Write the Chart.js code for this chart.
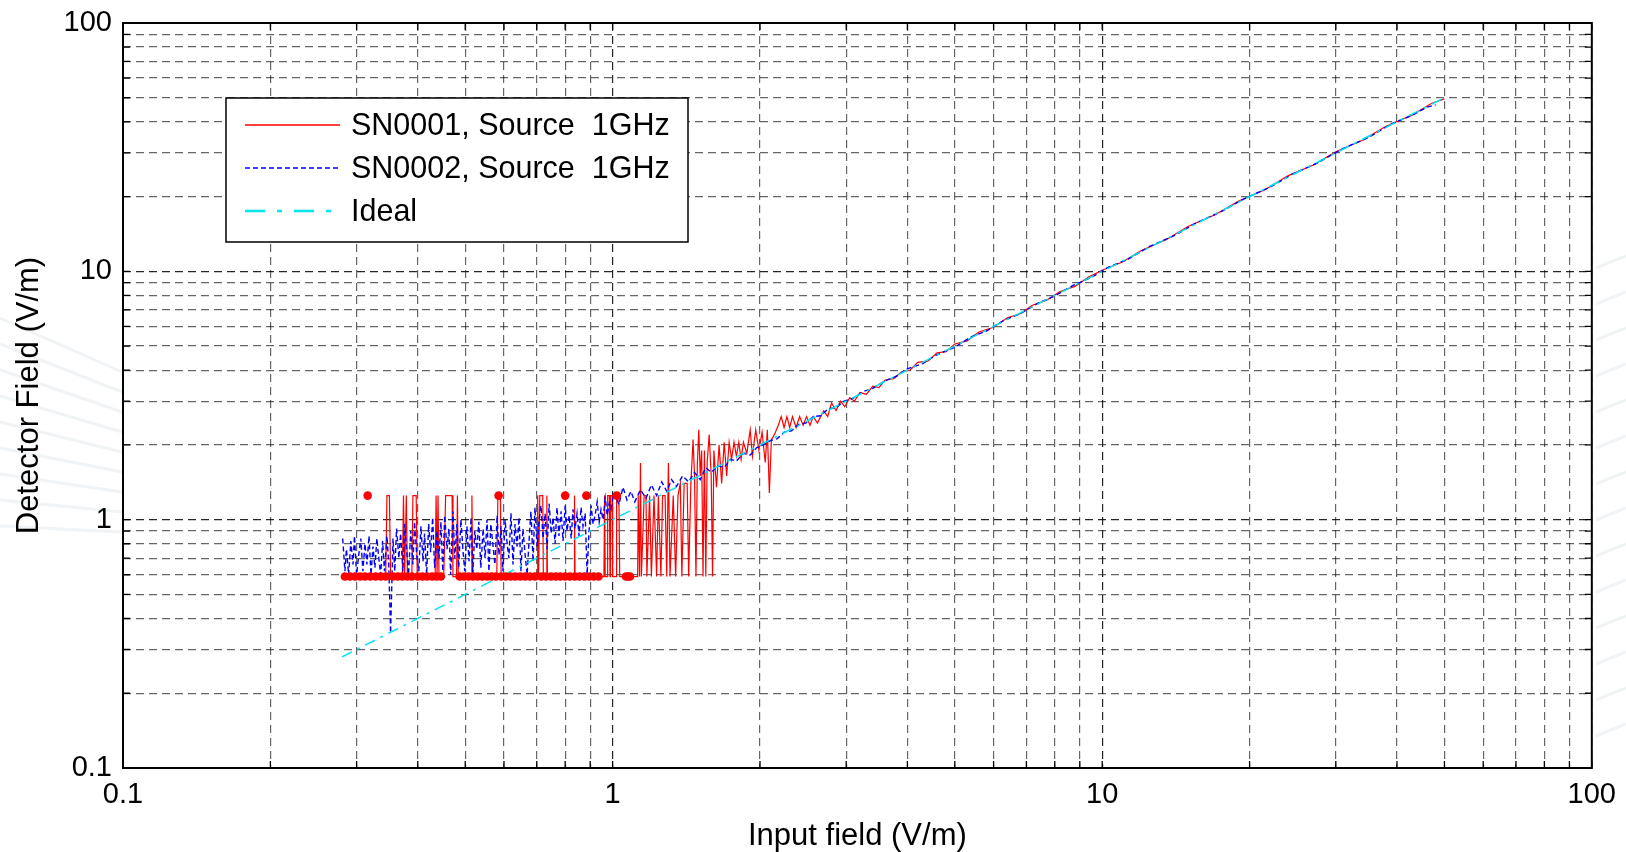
<!DOCTYPE html>
<html>
<head>
<meta charset="utf-8">
<title>Detector field vs input field</title>
<script src="https://cdn.jsdelivr.net/npm/chart.js@4.4.0/dist/chart.umd.min.js"></script>
<style>
  html, body { margin: 0; padding: 0; background: #fff; }
  #wrap { width: 1626px; height: 852px; }
</style>
</head>
<body>
<div id="wrap"><canvas id="linChart" width="1626" height="852"></canvas></div>
<script>
// tick labels (decades only)
const xTickValues = [0.1, 1, 10, 100];
const xTickLabels = ['0.1', '1', '10', '100'];
const yTickValues = [0.1, 1, 10, 100];
const yTickLabels = ['0.1', '1', '10', '100'];
const gridMantissas = [1, 2, 3, 4, 5, 6, 7, 8, 9];

const seriesNames = ['SN0001, Source  1GHz', 'SN0002, Source  1GHz', 'Ideal'];

// SN0001 (red, solid)
const sn1X = [
  0.284, 0.296, 0.309, 0.322, 0.335, 0.344, 0.346, 0.350, 0.352, 0.363,
  0.372, 0.374, 0.376, 0.379, 0.381, 0.389, 0.391, 0.397, 0.399, 0.412,
  0.424, 0.434, 0.436, 0.438, 0.440, 0.442, 0.452, 0.456, 0.470, 0.472,
  0.480, 0.482, 0.484, 0.496, 0.514, 0.516, 0.518, 0.532, 0.548, 0.562,
  0.580, 0.583, 0.590, 0.592, 0.612, 0.630, 0.650, 0.668, 0.686, 0.701,
  0.703, 0.706, 0.710, 0.720, 0.722, 0.732, 0.734, 0.736, 0.752, 0.770,
  0.790, 0.810, 0.834, 0.836, 0.838, 0.860, 0.880, 0.900, 0.920, 0.940,
  0.960, 0.963, 0.966, 0.975, 0.977, 0.985, 0.988, 0.990, 0.998, 1.000,
  1.017, 1.019, 1.030, 1.034, 1.050, 1.070, 1.090, 1.110, 1.125, 1.128,
  1.135, 1.140, 1.145, 1.160, 1.170, 1.175, 1.190, 1.200, 1.215, 1.230,
  1.240, 1.255, 1.265, 1.280, 1.290, 1.300, 1.310, 1.330, 1.345, 1.360,
  1.375, 1.385, 1.400, 1.420, 1.430, 1.445, 1.460, 1.470, 1.480, 1.490,
  1.500, 1.510, 1.520, 1.530, 1.540, 1.550, 1.560, 1.575, 1.590, 1.600,
  1.610, 1.630, 1.650, 1.670, 1.690, 1.710, 1.730, 1.750, 1.770, 1.790,
  1.810, 1.830, 1.850, 1.880, 1.910, 1.930, 1.960, 1.990, 2.020, 2.050,
  2.070, 2.090, 2.110, 2.140, 2.180, 2.210, 2.240, 2.270, 2.300, 2.330,
  2.370, 2.410, 2.450, 2.490, 2.530, 2.570, 2.620, 2.660, 2.700, 2.750,
  2.800, 2.860, 2.920, 2.980, 3.050, 3.120, 3.200, 3.300, 3.400, 3.500,
  3.600, 3.750, 3.900, 4.050, 4.200, 4.400, 4.600, 4.800, 5.000, 5.300,
  5.600, 6.000, 6.400, 6.800, 7.200, 7.700, 8.200, 8.800, 9.400, 10.00,
  11.00, 12.00, 13.50, 15.00, 17.00, 19.00, 21.50, 24.00, 27.00, 30.00,
  34.00, 38.00, 43.00, 47.00, 50.00
];
const sn1Y = [
  0.59, 0.59, 0.59, 0.59, 0.59, 0.59, 1.25, 1.25, 0.59, 0.59,
  0.59, 1.25, 0.59, 1.25, 0.59, 0.59, 1.25, 1.25, 0.59, 0.59,
  0.59, 0.59, 1.25, 0.59, 1.25, 0.59, 0.59, 1.25, 1.25, 0.59,
  0.59, 1.25, 0.59, 0.59, 0.59, 1.25, 0.59, 0.59, 0.59, 0.59,
  0.59, 1.25, 1.25, 0.59, 0.59, 0.59, 0.59, 0.59, 0.59, 0.59,
  1.25, 0.59, 1.25, 1.25, 0.59, 0.59, 1.25, 0.59, 0.59, 0.59,
  0.59, 0.59, 0.59, 1.25, 0.59, 0.59, 0.59, 0.59, 0.59, 0.59,
  0.59, 1.25, 0.59, 0.59, 1.25, 1.25, 0.59, 1.25, 1.25, 0.59,
  0.59, 1.25, 1.25, 0.59, 0.59, 0.59, 0.59, 0.59, 0.59, 1.25,
  0.59, 1.69, 0.59, 1.25, 1.25, 0.59, 1.25, 0.59, 1.25, 0.59,
  1.25, 0.59, 1.25, 1.25, 0.59, 1.69, 0.59, 1.25, 0.59, 1.25,
  1.40, 0.59, 1.40, 1.40, 0.59, 1.40, 2.10, 1.50, 0.59, 1.70,
  2.30, 1.50, 1.90, 0.59, 1.90, 0.59, 1.70, 2.20, 1.50, 0.59,
  1.90, 1.35, 2.00, 1.40, 2.05, 1.50, 2.05, 1.75, 2.05, 1.80,
  2.05, 1.75, 2.05, 1.85, 2.30, 1.80, 2.30, 1.90, 2.25, 1.70,
  2.30, 1.28, 2.10, 2.20, 2.40, 2.60, 2.35, 2.60, 2.35, 2.60,
  2.35, 2.60, 2.40, 2.60, 2.40, 2.60, 2.45, 2.60, 2.75, 2.60,
  2.95, 2.75, 3.00, 2.85, 3.10, 3.00, 3.25, 3.20, 3.45, 3.40,
  3.65, 3.70, 3.95, 4.00, 4.30, 4.35, 4.70, 4.75, 5.10, 5.25,
  5.70, 5.95, 6.50, 6.75, 7.30, 7.65, 8.30, 8.70, 9.50, 10.10,
  10.90, 12.10, 13.40, 15.20, 16.90, 19.20, 21.30, 24.30, 26.80, 30.30,
  33.70, 38.40, 42.60, 47.40, 49.50
];

// SN0001 sample markers (red dots)
const sn1DotX = [
  0.284, 0.291, 0.298, 0.305, 0.312, 0.320, 0.328, 0.336, 0.344, 0.356,
  0.364, 0.372, 0.381, 0.389, 0.400, 0.409, 0.418, 0.428, 0.437, 0.446,
  0.487, 0.497, 0.508, 0.519, 0.530, 0.542, 0.554, 0.566, 0.578, 0.592,
  0.605, 0.619, 0.633, 0.648, 0.663, 0.678, 0.694, 0.715, 0.731, 0.748,
  0.765, 0.782, 0.800, 0.818, 0.837, 0.856, 0.876, 0.896, 0.916, 0.936,
  1.065, 1.075, 1.085,
  0.316, 0.585, 0.800, 0.884, 1.020
];
const sn1DotY = [
  0.59, 0.59, 0.59, 0.59, 0.59, 0.59, 0.59, 0.59, 0.59, 0.59,
  0.59, 0.59, 0.59, 0.59, 0.59, 0.59, 0.59, 0.59, 0.59, 0.59,
  0.59, 0.59, 0.59, 0.59, 0.59, 0.59, 0.59, 0.59, 0.59, 0.59,
  0.59, 0.59, 0.59, 0.59, 0.59, 0.59, 0.59, 0.59, 0.59, 0.59,
  0.59, 0.59, 0.59, 0.59, 0.59, 0.59, 0.59, 0.59, 0.59, 0.59,
  0.59, 0.59, 0.59,
  1.25, 1.25, 1.25, 1.25, 1.25
];

// SN0002 (blue, dashed)
const sn2X = [
  0.281, 0.284, 0.286, 0.289, 0.292, 0.295, 0.297, 0.300, 0.303, 0.306,
  0.309, 0.312, 0.315, 0.318, 0.321, 0.324, 0.327, 0.330, 0.333, 0.336,
  0.339, 0.342, 0.346, 0.349, 0.352, 0.356, 0.359, 0.362, 0.366, 0.369,
  0.373, 0.376, 0.380, 0.383, 0.387, 0.391, 0.394, 0.398, 0.402, 0.406,
  0.410, 0.413, 0.417, 0.421, 0.425, 0.429, 0.433, 0.438, 0.442, 0.446,
  0.450, 0.454, 0.459, 0.463, 0.467, 0.472, 0.476, 0.481, 0.485, 0.490,
  0.495, 0.499, 0.504, 0.509, 0.514, 0.518, 0.523, 0.528, 0.533, 0.538,
  0.544, 0.549, 0.554, 0.559, 0.564, 0.570, 0.575, 0.581, 0.586, 0.592,
  0.597, 0.603, 0.609, 0.614, 0.620, 0.626, 0.632, 0.638, 0.644, 0.650,
  0.656, 0.662, 0.669, 0.675, 0.681, 0.688, 0.694, 0.701, 0.708, 0.714,
  0.721, 0.728, 0.735, 0.742, 0.749, 0.756, 0.763, 0.770, 0.777, 0.785,
  0.792, 0.800, 0.807, 0.815, 0.823, 0.830, 0.838, 0.846, 0.854, 0.862,
  0.870, 0.879, 0.887, 0.895, 0.904, 0.912, 0.921, 0.930, 0.939, 0.947,
  0.956, 0.966, 0.975, 0.984, 0.993, 1.002,
  1.01, 1.03, 1.05, 1.07, 1.09, 1.11, 1.14, 1.17, 1.20, 1.23,
  1.26, 1.29, 1.32, 1.35, 1.39, 1.43, 1.47, 1.51, 1.55, 1.59,
  1.64, 1.69, 1.74, 1.79, 1.85, 1.91, 1.97, 2.03, 2.10, 2.17,
  2.24, 2.32, 2.40, 2.48, 2.57, 2.66, 2.76, 2.86, 2.97, 3.10,
  3.25, 3.40, 3.60, 3.80, 4.00, 4.30, 4.60, 5.00, 5.40, 5.80,
  6.30, 6.80, 7.40, 8.00, 8.70, 9.50, 10.3, 11.3, 12.5, 14.0,
  15.5, 17.5, 19.5, 22.0, 24.5, 27.5, 31.0, 35.0, 39.0, 43.0,
  46.0, 48.0
];
const sn2Y = [
  0.84, 0.62, 0.76, 0.60, 0.82, 0.66, 0.86, 0.60, 0.72, 0.84,
  0.62, 0.80, 0.66, 0.86, 0.60, 0.78, 0.64, 0.84, 0.70, 0.60,
  0.82, 0.62, 0.86, 0.66, 0.35, 0.84, 0.62, 0.92, 0.70, 0.88,
  0.62, 0.96, 0.74, 0.60, 0.90, 0.66, 0.98, 0.72, 0.62, 0.94,
  0.68, 0.88, 0.60, 0.96, 0.74, 1.02, 0.64, 0.90, 0.70, 0.98,
  0.62, 1.04, 0.76, 0.92, 0.60, 1.08, 0.70, 0.96, 0.64, 1.00,
  0.74, 0.62, 0.94, 0.68, 1.02, 0.60, 0.90, 0.76, 0.98, 0.64,
  0.92, 0.70, 1.00, 0.62, 0.96, 0.78, 0.66, 1.04, 0.72, 0.94,
  0.62, 1.00, 0.80, 0.70, 1.06, 0.66, 0.96, 0.78, 1.02, 0.62,
  0.92, 0.74, 0.60, 0.82, 1.08, 0.68, 1.12, 0.78, 1.00, 1.14,
  0.84, 1.06, 0.76, 1.16, 0.88, 1.02, 0.80, 1.12, 0.86, 1.08,
  0.82, 1.14, 0.90, 1.04, 0.84, 1.10, 0.92, 1.06, 0.86, 1.12,
  0.94, 1.06, 0.60, 0.90, 1.14, 0.96, 1.04, 1.18, 0.98, 1.10,
  1.00, 1.22, 1.04, 1.16, 1.10, 1.24,
  1.28, 1.15, 1.35, 1.20, 1.30, 1.18, 1.32, 1.22, 1.38, 1.25,
  1.42, 1.30, 1.45, 1.36, 1.50, 1.42, 1.55, 1.45, 1.62, 1.55,
  1.65, 1.62, 1.75, 1.72, 1.85, 1.82, 1.95, 2.00, 2.08, 2.12,
  2.25, 2.28, 2.42, 2.45, 2.60, 2.62, 2.80, 2.82, 3.00, 3.08,
  3.28, 3.38, 3.62, 3.78, 4.05, 4.25, 4.62, 4.95, 5.45, 5.75,
  6.35, 6.75, 7.45, 7.95, 8.75, 9.45, 10.4, 11.2, 12.6, 13.9,
  15.6, 17.4, 19.6, 21.8, 24.7, 27.3, 31.2, 34.6, 39.3, 42.5,
  45.8, 46.8
];

// Ideal response
const idealX = [0.28, 50];
const idealY = [0.28, 50];

function toPoints(xs, ys) {
  return xs.map((x, i) => ({ x: x, y: ys[i] }));
}

function isDecade(v) {
  const l = Math.log10(v);
  return Math.abs(l - Math.round(l)) < 1e-6;
}

function decadeLabel(values, labels, v) {
  for (let i = 0; i < values.length; i++) {
    if (Math.abs(values[i] - v) / values[i] < 1e-6) return labels[i];
  }
  return '';
}

// 1..9 x every decade between min and max
function logGridTicks(scale) {
  const ticks = [];
  const e0 = Math.round(Math.log10(scale.min));
  const e1 = Math.round(Math.log10(scale.max));
  for (let e = e0; e < e1; e++) {
    gridMantissas.forEach(m => {
      ticks.push({ value: parseFloat((m * Math.pow(10, e)).toPrecision(6)) });
    });
  }
  ticks.push({ value: scale.max });
  scale.ticks = ticks;
}

const fontFamily = '"Liberation Sans", Arial, Helvetica, sans-serif';

// faint background streaks like the original slide
const backdrop = {
  id: 'backdrop',
  beforeDraw(chart) {
    const ctx = chart.ctx;
    ctx.save();
    ctx.fillStyle = '#fff';
    ctx.fillRect(0, 0, chart.width, chart.height);
    ctx.strokeStyle = 'rgba(222,230,236,0.45)';
    ctx.lineWidth = 3;
    for (let i = 0; i < 9; i++) {
      ctx.beginPath();
      ctx.moveTo(0, 318 + i * 26);
      ctx.lineTo(122, 372 + i * 20);
      ctx.stroke();
    }
    for (let i = 0; i < 14; i++) {
      ctx.beginPath();
      ctx.moveTo(1596, 268 + i * 36);
      ctx.lineTo(1626, 256 + i * 36);
      ctx.stroke();
    }
    ctx.restore();
  }
};

// box frame and inward tick marks
const frameTicks = {
  id: 'frameTicks',
  afterDatasetsDraw(chart) {
    const { ctx, chartArea: a, scales } = chart;
    ctx.save();
    ctx.strokeStyle = '#000';
    ctx.lineWidth = 1.3;
    ctx.beginPath();
    scales.x.ticks.forEach(t => {
      const px = scales.x.getPixelForValue(t.value);
      ctx.moveTo(px, a.bottom); ctx.lineTo(px, a.bottom - 7);
      ctx.moveTo(px, a.top); ctx.lineTo(px, a.top + 7);
    });
    scales.y.ticks.forEach(t => {
      const py = scales.y.getPixelForValue(t.value);
      ctx.moveTo(a.left, py); ctx.lineTo(a.left + 7, py);
      ctx.moveTo(a.right, py); ctx.lineTo(a.right - 7, py);
    });
    ctx.stroke();
    ctx.lineWidth = 2;
    ctx.strokeRect(a.left, a.top, a.right - a.left, a.bottom - a.top);
    ctx.restore();
  }
};

// boxed legend in the upper left
const boxLegend = {
  id: 'boxLegend',
  afterDraw(chart, args, opts) {
    const ctx = chart.ctx;
    const b = opts.box;
    ctx.save();
    ctx.fillStyle = '#fff';
    ctx.fillRect(b.x, b.y, b.w, b.h);
    ctx.strokeStyle = '#000';
    ctx.lineWidth = 1.5;
    ctx.strokeRect(b.x, b.y, b.w, b.h);
    ctx.font = '30.5px ' + fontFamily;
    ctx.textBaseline = 'middle';
    ctx.fillStyle = '#000';
    for (let i = 0; i < 3; i++) {
      const ds = chart.data.datasets[i];
      const y = b.y + 27 + i * 43;
      ctx.beginPath();
      ctx.strokeStyle = ds.borderColor;
      ctx.lineWidth = opts.widths[i];
      ctx.setLineDash(opts.dashes[i]);
      ctx.moveTo(b.x + 19, y);
      ctx.lineTo(b.x + 114, y);
      ctx.stroke();
      ctx.setLineDash([]);
      ctx.fillText(ds.label, b.x + 125, y + 2);
    }
    ctx.restore();
  }
};

new Chart(document.getElementById('linChart'), {
  type: 'scatter',
  data: {
    datasets: [
      {
        label: seriesNames[0],
        data: toPoints(sn1X, sn1Y),
        showLine: true,
        borderColor: 'rgb(255,0,0)',
        borderWidth: 1.2,
        pointRadius: 0,
        tension: 0,
        order: 4
      },
      {
        label: seriesNames[1],
        data: toPoints(sn2X, sn2Y),
        showLine: true,
        borderColor: 'rgb(0,0,255)',
        borderWidth: 1.4,
        borderDash: [5, 3],
        pointRadius: 0,
        tension: 0,
        order: 3
      },
      {
        label: seriesNames[2],
        data: toPoints(idealX, idealY),
        showLine: true,
        borderColor: 'rgb(0,228,240)',
        borderWidth: 1.5,
        borderDash: [11, 6, 3, 6],
        pointRadius: 0,
        order: 2
      },
      {
        label: 'SN0001 samples',
        data: toPoints(sn1DotX, sn1DotY),
        showLine: false,
        pointRadius: 4.3,
        pointBorderWidth: 0,
        backgroundColor: 'rgb(255,0,0)',
        borderColor: 'rgb(255,0,0)',
        order: 1
      }
    ]
  },
  options: {
    responsive: false,
    animation: false,
    devicePixelRatio: 1,
    layout: { padding: { left: 0, right: 33, top: 23, bottom: 0 } },
    plugins: {
      legend: { display: false },
      tooltip: { enabled: false },
      boxLegend: {
        box: { x: 226, y: 98, w: 462, h: 144 },
        dashes: [[], [5, 3], [20, 12, 5, 12]],
        widths: [1.5, 1.4, 2.5]
      }
    },
    scales: {
      x: {
        type: 'logarithmic',
        min: 0.1,
        max: 100,
        afterBuildTicks: logGridTicks,
        afterFit(scale) { scale.height = 84; },
        grid: {
          drawTicks: false,
          lineWidth: 1.2,
          color: c => isDecade(c.tick.value) ? 'rgba(0,0,0,0.85)' : 'rgba(0,0,0,0.6)'
        },
        border: { display: false, dash: [8, 5] },
        ticks: {
          autoSkip: false,
          maxRotation: 0,
          padding: 10,
          color: '#000',
          font: { family: fontFamily, size: 29 },
          callback: v => decadeLabel(xTickValues, xTickLabels, v)
        },
        title: {
          display: true,
          text: 'Input field (V/m)',
          color: '#000',
          font: { family: fontFamily, size: 31, lineHeight: 1.0 },
          padding: { top: 0, bottom: 0 }
        }
      },
      y: {
        type: 'logarithmic',
        min: 0.1,
        max: 100,
        afterBuildTicks: logGridTicks,
        afterFit(scale) {
          scale.width = 123;
          // keep the plot box where the layout padding puts it
          scale.paddingTop = 0;
          scale.paddingBottom = 0;
        },
        grid: {
          drawTicks: false,
          lineWidth: 1.2,
          color: c => isDecade(c.tick.value) ? 'rgba(0,0,0,0.85)' : 'rgba(0,0,0,0.6)'
        },
        border: { display: false, dash: [8, 5] },
        ticks: {
          autoSkip: false,
          padding: 11,
          color: '#000',
          font: { family: fontFamily, size: 29 },
          callback: v => decadeLabel(yTickValues, yTickLabels, v)
        },
        title: {
          display: true,
          text: 'Detector Field (V/m)',
          color: '#000',
          font: { family: fontFamily, size: 31, lineHeight: 1.1 },
          padding: { top: 12, bottom: 0 }
        }
      }
    }
  },
  plugins: [backdrop, frameTicks, boxLegend]
});
</script>
</body>
</html>
